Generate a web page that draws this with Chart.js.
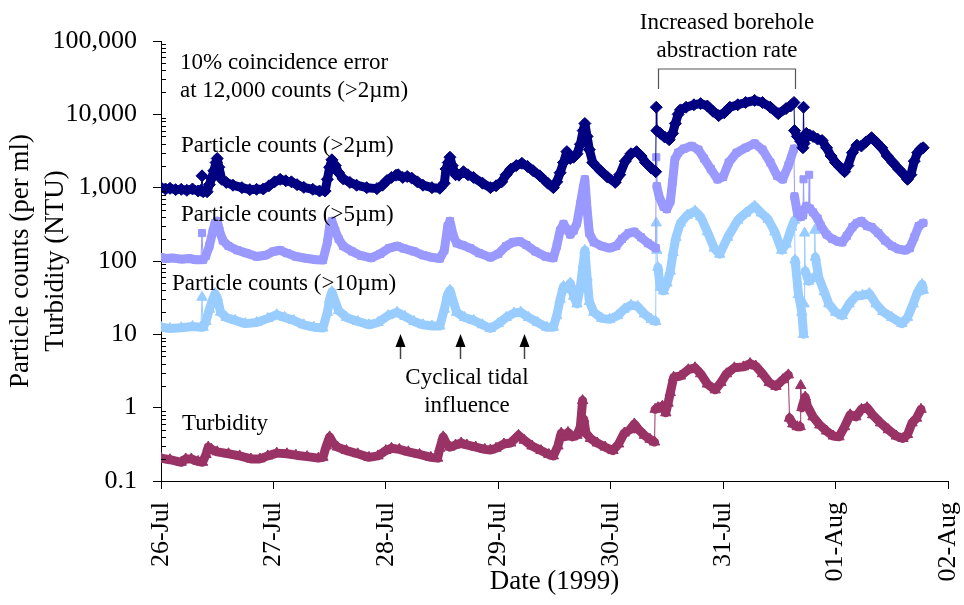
<!DOCTYPE html>
<html>
<head>
<meta charset="utf-8">
<script src="https://cdn.jsdelivr.net/npm/chart.js@4.4.1/dist/chart.umd.min.js"></script>
<style>
    html, body { margin: 0; padding: 0; background: #fff; }
</style>
</head>
<body>
<canvas id="chartParticles" width="964" height="605"></canvas>
<script>
// x axis: day offset from 26-Jul 00:00
const dateLabels = ['26-Jul', '27-Jul', '28-Jul', '29-Jul', '30-Jul', '31-Jul', '01-Aug', '02-Aug'];
const yTickValues = [0.1, 1, 10, 100, 1000, 10000, 100000];

// [day, counts per ml]
const counts2um = [
    [0.00, 1000], [0.04, 960], [0.08, 980], [0.13, 940], [0.18, 950], [0.23, 920], [0.28, 960], [0.33, 900],
    [0.355, 920], [0.365, 1450], [0.375, 880], [0.41, 880], [0.43, 1100], [0.45, 1340], [0.47, 1700], [0.49, 2200],
    [0.50, 2500], [0.515, 1900], [0.54, 1300], [0.58, 1180], [0.64, 1080], [0.72, 1000], [0.79, 940], [0.85, 950],
    [0.91, 960], [0.96, 1060], [1.01, 1200], [1.06, 1300], [1.11, 1240], [1.16, 1200], [1.21, 1100], [1.27, 1010],
    [1.35, 950], [1.41, 900], [1.46, 900], [1.48, 1300], [1.50, 1900], [1.52, 2400], [1.55, 2000], [1.58, 1600],
    [1.62, 1320], [1.68, 1180], [1.74, 1080], [1.83, 1000], [1.92, 970], [1.97, 1080], [2.01, 1250], [2.05, 1380],
    [2.09, 1480], [2.11, 1500], [2.15, 1380], [2.19, 1420], [2.23, 1350], [2.28, 1200], [2.33, 1080], [2.41, 1000],
    [2.48, 980], [2.52, 1150], [2.535, 1800], [2.555, 2200], [2.57, 2600], [2.59, 2000], [2.62, 1500], [2.65, 1480],
    [2.69, 1650], [2.73, 1500], [2.78, 1380], [2.86, 1150], [2.93, 1000], [2.98, 1060], [3.03, 1200], [3.07, 1500],
    [3.11, 1780], [3.16, 2000], [3.21, 2150], [3.26, 1950], [3.31, 1700], [3.37, 1450], [3.44, 1150], [3.49, 1000],
    [3.52, 1200], [3.55, 1600], [3.58, 2200], [3.61, 3100], [3.64, 2500], [3.67, 2600], [3.70, 2900], [3.73, 3900],
    [3.755, 6000], [3.77, 7500], [3.79, 5000], [3.81, 3300], [3.84, 2200], [3.91, 1700], [3.97, 1400], [4.04, 1180],
    [4.08, 1500], [4.13, 2300], [4.18, 2900], [4.23, 3100], [4.27, 2700], [4.31, 2200], [4.36, 1850], [4.40, 1650],
    [4.405, 12500], [4.41, 6000], [4.44, 5500], [4.48, 4900], [4.52, 4500], [4.55, 5500], [4.575, 7500], [4.60, 10000],
    [4.62, 11500], [4.67, 12500], [4.74, 13500], [4.80, 14000], [4.86, 13000], [4.91, 11000], [4.96, 9600], [5.01, 10500],
    [5.06, 12500], [5.13, 13500], [5.20, 14500], [5.28, 15500], [5.35, 14500], [5.42, 12500], [5.49, 10200], [5.56, 12000],
    [5.60, 13000], [5.63, 14500], [5.635, 6000], [5.66, 5000], [5.69, 4300], [5.71, 3500], [5.715, 12500], [5.72, 4000],
    [5.74, 5500], [5.77, 5200], [5.80, 5000], [5.84, 4600], [5.88, 4400], [5.92, 3500], [5.96, 2700], [6.00, 2200],
    [6.04, 1900], [6.08, 1650], [6.11, 2000], [6.15, 3000], [6.19, 3800], [6.23, 3700], [6.27, 4200], [6.32, 4800],
    [6.36, 4200], [6.41, 3500], [6.46, 2700], [6.51, 2200], [6.56, 1800], [6.61, 1500], [6.64, 1300], [6.67, 1500],
    [6.70, 2300], [6.73, 3000], [6.76, 3400], [6.78, 3500]
];

const counts5um = [
    [0.00, 112], [0.05, 108], [0.10, 110], [0.18, 106], [0.25, 108], [0.31, 104], [0.355, 104], [0.365, 240],
    [0.375, 104], [0.40, 118], [0.43, 160], [0.46, 250], [0.48, 330], [0.50, 350], [0.52, 260], [0.55, 190],
    [0.60, 160], [0.68, 140], [0.76, 128], [0.85, 115], [0.93, 120], [1.00, 135], [1.06, 140], [1.12, 128],
    [1.20, 115], [1.30, 108], [1.38, 104], [1.44, 103], [1.48, 180], [1.50, 300], [1.52, 350], [1.55, 260],
    [1.58, 200], [1.62, 160], [1.70, 135], [1.78, 118], [1.87, 110], [1.95, 125], [2.03, 150], [2.10, 160],
    [2.16, 148], [2.25, 135], [2.33, 120], [2.41, 112], [2.48, 108], [2.52, 140], [2.55, 300], [2.57, 350],
    [2.60, 220], [2.63, 175], [2.68, 165], [2.75, 150], [2.83, 128], [2.93, 112], [3.00, 125], [3.07, 160],
    [3.13, 180], [3.19, 185], [3.25, 165], [3.33, 135], [3.42, 115], [3.49, 110], [3.52, 160], [3.55, 260],
    [3.58, 320], [3.61, 270], [3.64, 230], [3.67, 260], [3.70, 330], [3.73, 600], [3.755, 1000], [3.77, 1300],
    [3.79, 500], [3.81, 240], [3.85, 180], [3.92, 160], [3.99, 150], [4.05, 160], [4.10, 200], [4.16, 240],
    [4.21, 250], [4.27, 210], [4.33, 175], [4.40, 150], [4.405, 2600], [4.41, 1050], [4.43, 760], [4.47, 550],
    [4.50, 510], [4.53, 650], [4.55, 1200], [4.57, 2400], [4.60, 3000], [4.65, 3400], [4.72, 3700], [4.78, 3300],
    [4.83, 2500], [4.89, 1800], [4.95, 1300], [5.00, 1400], [5.05, 2200], [5.12, 3000], [5.20, 3500], [5.28, 4000],
    [5.35, 3300], [5.42, 2200], [5.48, 1450], [5.53, 1300], [5.58, 2000], [5.63, 3400], [5.635, 760], [5.66, 450],
    [5.69, 400], [5.71, 420], [5.715, 1300], [5.72, 500], [5.74, 560], [5.76, 520], [5.765, 1500], [5.77, 520],
    [5.80, 460], [5.84, 380], [5.87, 300], [5.92, 230], [5.97, 200], [6.02, 185], [6.06, 180], [6.10, 220],
    [6.15, 290], [6.19, 330], [6.23, 350], [6.28, 300], [6.32, 290], [6.38, 240], [6.44, 190], [6.50, 160],
    [6.56, 145], [6.62, 140], [6.66, 150], [6.70, 210], [6.74, 300], [6.78, 330]
];

const counts10um = [
    [0.00, 12.5], [0.08, 12], [0.18, 12.3], [0.28, 12.8], [0.355, 12.5], [0.365, 32], [0.375, 12.5], [0.40, 15],
    [0.43, 22], [0.46, 30], [0.48, 36], [0.50, 32], [0.53, 20], [0.58, 17], [0.66, 15.5], [0.75, 14],
    [0.85, 14.5], [0.95, 16.5], [1.03, 18.5], [1.10, 17], [1.18, 15.5], [1.27, 13.5], [1.36, 12.5], [1.44, 12.2],
    [1.48, 20], [1.50, 30], [1.52, 38], [1.55, 28], [1.58, 21], [1.65, 17], [1.75, 15], [1.85, 13.5],
    [1.93, 14.5], [2.02, 18], [2.10, 20], [2.17, 17.5], [2.25, 15], [2.33, 13.5], [2.41, 13], [2.48, 13],
    [2.52, 22], [2.55, 35], [2.57, 40], [2.60, 28], [2.63, 20], [2.70, 17], [2.78, 15.5], [2.86, 13.5],
    [2.93, 12], [3.00, 14], [3.07, 17], [3.14, 19.5], [3.20, 20], [3.27, 17], [3.35, 14.5], [3.43, 12.5],
    [3.49, 12.5], [3.52, 18], [3.55, 30], [3.58, 45], [3.61, 42], [3.64, 50], [3.67, 33], [3.70, 26],
    [3.73, 45], [3.755, 90], [3.77, 140], [3.79, 60], [3.81, 28], [3.85, 20], [3.92, 16.5], [3.99, 16],
    [4.06, 18], [4.12, 22], [4.18, 25], [4.24, 24], [4.30, 19], [4.36, 16], [4.40, 15], [4.405, 330],
    [4.41, 140], [4.42, 82], [4.44, 44], [4.47, 39], [4.50, 50], [4.53, 73], [4.555, 130], [4.58, 210],
    [4.62, 330], [4.68, 420], [4.75, 480], [4.80, 400], [4.86, 250], [4.92, 150], [4.97, 124], [5.04, 210],
    [5.13, 360], [5.20, 450], [5.28, 560], [5.34, 450], [5.40, 370], [5.46, 250], [5.52, 140], [5.56, 170],
    [5.61, 290], [5.635, 360], [5.64, 103], [5.67, 35], [5.70, 20], [5.715, 10], [5.72, 26], [5.725, 240],
    [5.73, 73], [5.76, 53], [5.81, 60], [5.815, 263], [5.82, 113], [5.85, 60], [5.90, 38], [5.94, 26],
    [6.00, 20], [6.06, 18], [6.12, 26], [6.18, 33], [6.24, 34], [6.30, 36], [6.36, 26], [6.42, 20.5],
    [6.50, 17], [6.59, 14], [6.64, 17], [6.69, 26], [6.73, 38], [6.77, 48], [6.78, 40]
];

// [day, NTU]
const turbidityNTU = [
    [0.00, 0.205], [0.08, 0.195], [0.18, 0.18], [0.22, 0.2], [0.27, 0.2], [0.33, 0.185], [0.37, 0.18], [0.40, 0.23],
    [0.42, 0.29], [0.45, 0.27], [0.50, 0.25], [0.60, 0.235], [0.70, 0.22], [0.80, 0.2], [0.88, 0.2], [0.95, 0.22],
    [1.03, 0.24], [1.12, 0.235], [1.20, 0.225], [1.30, 0.215], [1.40, 0.205], [1.44, 0.21], [1.47, 0.3], [1.50, 0.4],
    [1.53, 0.33], [1.57, 0.29], [1.65, 0.26], [1.75, 0.235], [1.85, 0.21], [1.93, 0.22], [2.00, 0.26], [2.05, 0.28],
    [2.12, 0.27], [2.20, 0.25], [2.30, 0.23], [2.40, 0.21], [2.46, 0.205], [2.48, 0.28], [2.51, 0.4], [2.54, 0.32],
    [2.57, 0.29], [2.62, 0.31], [2.67, 0.33], [2.72, 0.31], [2.80, 0.29], [2.88, 0.27], [2.93, 0.265], [2.98, 0.28],
    [3.05, 0.32], [3.11, 0.33], [3.18, 0.42], [3.23, 0.36], [3.30, 0.30], [3.38, 0.26], [3.45, 0.23], [3.49, 0.22],
    [3.53, 0.3], [3.56, 0.45], [3.59, 0.4], [3.62, 0.46], [3.66, 0.4], [3.70, 0.42], [3.73, 0.55], [3.75, 1.25],
    [3.76, 0.7], [3.78, 0.45], [3.82, 0.38], [3.88, 0.33], [3.95, 0.29], [4.02, 0.26], [4.07, 0.32], [4.12, 0.45],
    [4.17, 0.5], [4.21, 0.6], [4.25, 0.5], [4.30, 0.42], [4.35, 0.37], [4.39, 0.34], [4.395, 0.95], [4.42, 1.0],
    [4.46, 1.05], [4.49, 0.85], [4.51, 1.15], [4.53, 1.6], [4.56, 2.6], [4.62, 2.7], [4.69, 3.3], [4.75, 3.5],
    [4.80, 2.9], [4.86, 2.1], [4.93, 1.75], [4.98, 2.2], [5.03, 2.9], [5.10, 3.5], [5.18, 3.6], [5.24, 4.0],
    [5.29, 3.7], [5.35, 2.9], [5.41, 2.2], [5.47, 1.95], [5.53, 2.4], [5.58, 2.8], [5.59, 0.72], [5.62, 0.6],
    [5.66, 0.55], [5.685, 0.55], [5.69, 2.0], [5.70, 1.0], [5.73, 1.4], [5.75, 1.05], [5.80, 0.75], [5.86, 0.58],
    [5.92, 0.48], [5.98, 0.41], [6.03, 0.40], [6.08, 0.55], [6.13, 0.80], [6.18, 0.75], [6.23, 0.95], [6.28, 1.0],
    [6.33, 0.8], [6.40, 0.62], [6.47, 0.5], [6.54, 0.41], [6.60, 0.38], [6.64, 0.43], [6.68, 0.62], [6.72, 0.72],
    [6.76, 0.95]
];

const serif = 'Liberation Serif';

// thin line where the series jumps almost vertically (single spikes / steps)
function jumpWidth(ctx) {
    const dx = Math.abs(ctx.p1.x - ctx.p0.x);
    const dy = Math.abs(ctx.p1.y - ctx.p0.y);
    return (dx < 1.5 && dy > 8) ? 1 : undefined;
}

function makeSeries(label, data, color, shape, radius) {
    return {
        label: label,
        data: data,
        borderColor: color,
        backgroundColor: color,
        borderWidth: 9,
        borderJoinStyle: 'round',
        borderCapStyle: 'round',
        pointStyle: shape,
        pointRadius: radius,
        pointBorderWidth: 1,
        pointBorderColor: color,
        pointBackgroundColor: color,
        tension: 0,
        segment: { borderWidth: jumpWidth }
    };
}

const minorTicks = {
    id: 'minorTicks',
    afterDraw: function (chart) {
        const { ctx, chartArea, scales: { y } } = chart;
        ctx.save();
        ctx.strokeStyle = '#000';
        ctx.lineWidth = 1;
        ctx.beginPath();
        for (let d = -1; d < 5; d++) {
            for (let m = 2; m <= 9; m++) {
                const py = Math.round(y.getPixelForValue(m * Math.pow(10, d))) + 0.5;
                ctx.moveTo(chartArea.left, py);
                ctx.lineTo(chartArea.left + 5, py);
            }
        }
        ctx.stroke();
        ctx.restore();
    }
};

const notes = {
    id: 'notes',
    afterDraw: function (chart) {
        const { ctx, scales: { x } } = chart;
        ctx.save();
        ctx.fillStyle = '#000';
        ctx.font = '23px "' + serif + '"';
        ctx.textBaseline = 'alphabetic';
        ctx.textAlign = 'left';
        ctx.fillText('10% coincidence error', 180, 69);
        ctx.fillText('at 12,000 counts (>2\u00b5m)', 180, 97);
        ctx.fillText('Particle counts (>2\u00b5m)', 181, 152);
        ctx.fillText('Particle counts (>5\u00b5m)', 181, 221);
        ctx.fillText('Particle counts (>10\u00b5m)', 172, 290);
        ctx.fillText('Turbidity', 182, 430);

        ctx.textAlign = 'center';
        ctx.fillText('Cyclical tidal', 467, 384);
        ctx.fillText('influence', 467, 412);
        ctx.fillText('Increased borehole', 727, 29);
        ctx.fillText('abstraction rate', 727, 57);

        // bracket over the high abstraction period
        const bx0 = Math.round(x.getPixelForValue(4.417)) + 0.5;
        const bx1 = Math.round(x.getPixelForValue(5.637)) + 0.5;
        ctx.strokeStyle = '#555';
        ctx.lineWidth = 1.2;
        ctx.beginPath();
        ctx.moveTo(bx0, 89);
        ctx.lineTo(bx0, 69);
        ctx.lineTo(bx1, 69);
        ctx.lineTo(bx1, 89);
        ctx.stroke();

        // tidal arrows
        [2.126, 2.66, 3.23].forEach(function (d) {
            const ax = Math.round(x.getPixelForValue(d)) + 0.5;
            ctx.strokeStyle = '#444';
            ctx.lineWidth = 1.5;
            ctx.beginPath();
            ctx.moveTo(ax, 359);
            ctx.lineTo(ax, 345);
            ctx.stroke();
            ctx.fillStyle = '#000';
            ctx.beginPath();
            ctx.moveTo(ax, 334);
            ctx.lineTo(ax - 5, 347);
            ctx.lineTo(ax + 5, 347);
            ctx.closePath();
            ctx.fill();
        });
        ctx.restore();
    }
};

const ctxParticles = document.getElementById('chartParticles').getContext('2d');

new Chart(ctxParticles, {
    type: 'line',
    data: {
        datasets: [
            makeSeries('Particle counts (>2\u00b5m)', counts2um, '#000080', 'rectRot', 6),
            makeSeries('Particle counts (>5\u00b5m)', counts5um, '#9999FF', 'rect', 5),
            makeSeries('Particle counts (>10\u00b5m)', counts10um, '#99CCFF', 'triangle', 6),
            makeSeries('Turbidity', turbidityNTU, '#993366', 'triangle', 6)
        ]
    },
    plugins: [minorTicks, notes],
    options: {
        responsive: false,
        animation: false,
        layout: { padding: { top: 41, right: 16, bottom: 0, left: 0 } },
        plugins: {
            legend: { display: false },
            tooltip: { enabled: false }
        },
        scales: {
            x: {
                type: 'linear',
                min: 0,
                max: 7,
                afterBuildTicks: function (scale) {
                    scale.ticks = dateLabels.map((l, i) => ({ value: i }));
                },
                afterFit: function (scale) {
                    scale.height = 124;
                    scale.paddingLeft = 0;
                    scale.paddingRight = 0;
                },
                ticks: {
                    autoSkip: false,
                    minRotation: 90,
                    maxRotation: 90,
                    padding: 13,
                    color: '#000',
                    font: { family: serif, size: 26 },
                    callback: function (value, index) {
                        return dateLabels[index];
                    }
                },
                grid: {
                    drawOnChartArea: false,
                    tickLength: 8,
                    color: '#000'
                },
                border: { display: true, color: '#000', width: 1 },
                title: {
                    display: true,
                    text: 'Date (1999)',
                    color: '#000',
                    font: { family: serif, size: 27 },
                    padding: { top: 0, bottom: 7 }
                }
            },
            y: {
                type: 'logarithmic',
                min: 0.1,
                max: 100000,
                afterBuildTicks: function (scale) {
                    scale.ticks = yTickValues.map(v => ({ value: v }));
                },
                afterFit: function (scale) {
                    scale.width = 161;
                    scale.paddingTop = 0;
                    scale.paddingBottom = 0;
                },
                ticks: {
                    padding: 16,
                    color: '#000',
                    font: { family: serif, size: 26 },
                    callback: function (value) {
                        return Number(value).toLocaleString('en-US');
                    }
                },
                grid: {
                    drawOnChartArea: false,
                    tickLength: 8,
                    color: '#000'
                },
                border: { display: true, color: '#000', width: 1 },
                title: {
                    display: true,
                    text: ['Particle counts (per ml)', 'Turbidity (NTU)'],
                    color: '#000',
                    font: { family: serif, size: 27, lineHeight: 1.3 },
                    padding: { top: 3, bottom: 0 }
                }
            }
        }
    }
});
</script>
</body>
</html>
